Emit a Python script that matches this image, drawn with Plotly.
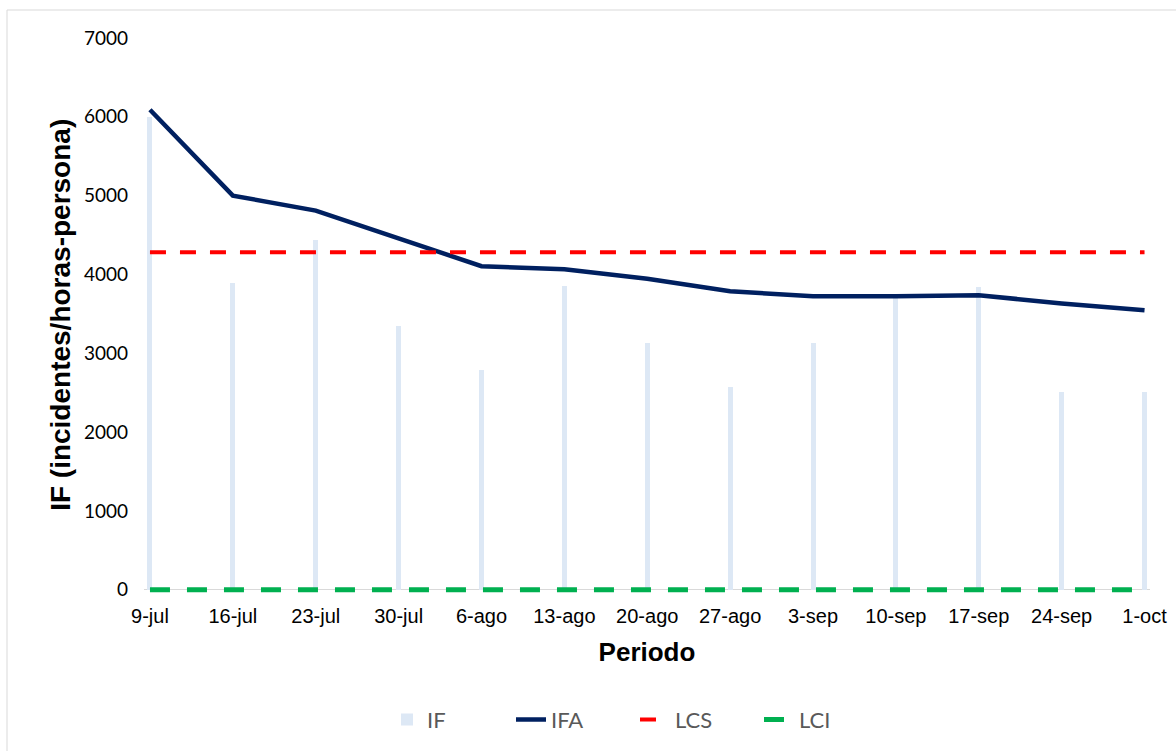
import plotly.graph_objects as go

categories = ["9-jul", "16-jul", "23-jul", "30-jul", "6-ago", "13-ago", "20-ago",
              "27-ago", "3-sep", "10-sep", "17-sep", "24-sep", "1-oct"]
if_values = [6000, 3890, 4440, 3340, 2785, 3850, 3133, 2571, 3133, 3700, 3843, 2508, 2508]
ifa_values = [6090, 5000, 4810, 4460, 4105, 4065, 3945, 3787, 3724, 3724, 3737, 3631, 3547]
lcs_values = [4280] * len(categories)
lci_values = [0] * len(categories)
y_ticks = [0, 1000, 2000, 3000, 4000, 5000, 6000, 7000]

W, H = 1176, 751
L, R, T = 144, 26, 38
Y_LOW = -80
PX_PER_UNIT = 552 / 7000
PH = (7000 - Y_LOW) * PX_PER_UNIT
B = H - T - PH
PW = W - L - R

fig = go.Figure()
fig.add_trace(go.Bar(x=categories, y=if_values, name="IF", width=0.06,
                     marker=dict(color="#DDE8F5", line=dict(width=0))))
fig.add_trace(go.Scatter(x=categories, y=ifa_values, name="IFA", mode="lines",
                         line=dict(color="#002060", width=4.5)))
fig.add_trace(go.Scatter(x=categories, y=lcs_values, name="LCS", mode="lines",
                         line=dict(color="#FF0000", width=4, dash="16px,14px")))
fig.add_trace(go.Scatter(x=categories, y=lci_values, name="LCI", mode="lines",
                         line=dict(color="#00B050", width=5, dash="20px,17px")))

fig.add_shape(type="rect", xref="paper", yref="paper",
              x0=(7 - L) / PW, x1=(W + 10 - L) / PW,
              y0=(H - B - (H + 10)) / PH, y1=(H - B - 10) / PH,
              line=dict(color="#D9D9D9", width=1), fillcolor="rgba(0,0,0,0)", layer="below")

fig.add_annotation(text="<b>IF (incidentes/horas-persona)</b>", textangle=-90,
                   xref="paper", yref="paper", showarrow=False,
                   x=(61 - L) / PW, y=(H - B - 315) / PH, xanchor="center", yanchor="middle",
                   font=dict(family="Liberation Sans, Arial, sans-serif", size=28, color="#000000"))

fig.update_layout(
    width=W, height=H,
    margin=dict(l=L, r=R, t=T, b=B, autoexpand=False),
    paper_bgcolor="white", plot_bgcolor="white",
    showlegend=True,
    bargap=0,
    legend=dict(orientation="h", x=0.5 - 12 / PW, xanchor="center", y=(H - B - 720) / PH, yanchor="middle",
                font=dict(family="Lato, Open Sans, sans-serif", size=22, color="#595959"),
                entrywidth=79, entrywidthmode="pixels", traceorder="normal"),
    xaxis=dict(type="category", range=[-0.072, 12.066], showgrid=False, zeroline=False,
               showline=False, ticks="",
               ticklabelstandoff=6,
               tickfont=dict(family="Liberation Sans, Arial, sans-serif", size=20, color="#000000"),
               title=dict(text="<b>Periodo</b>", standoff=16,
                          font=dict(family="Liberation Sans, Arial, sans-serif", size=26, color="#000000"))),
    yaxis=dict(range=[Y_LOW, 7000], tickvals=y_ticks, showgrid=False,
               zeroline=True, zerolinecolor="#D9D9D9", zerolinewidth=1, showline=False,
               ticks="", ticklabelstandoff=15,
               tickfont=dict(family="Lato, Open Sans, sans-serif", size=19, color="#000000")),
)

fig.write_html("out.html")
